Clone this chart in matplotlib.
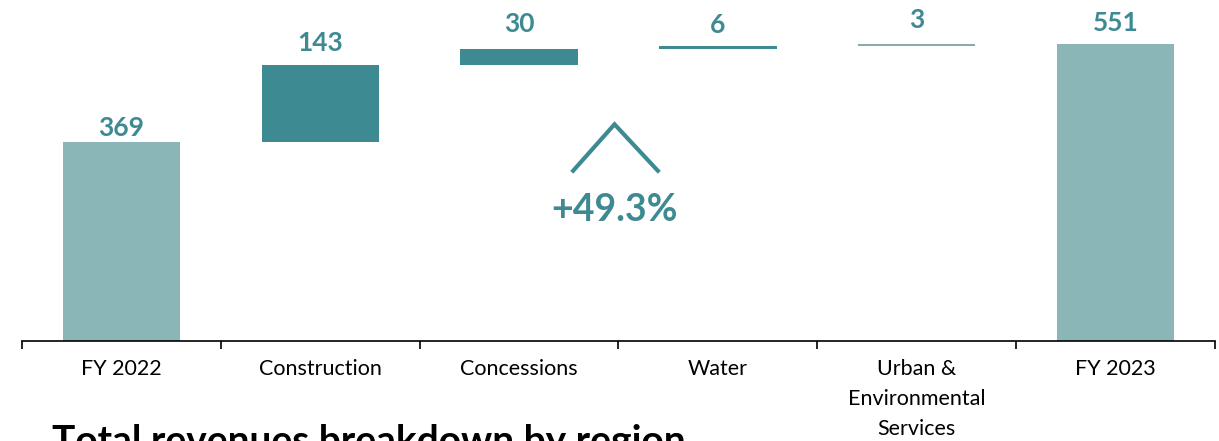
import matplotlib.pyplot as plt
import numpy as np

categories = ["FY 2022", "Construction", "Concessions", "Water",
              "Urban &\nEnvironmental\nServices", "FY 2023"]
values = [369, 143, 30, 6, 3, 551]
is_total = [True, False, False, False, False, True]
growth_label = "+49.3%"

total_color = "#8BB6B7"
delta_color = "#3E8A93"
urban_color = "#8EA9A9"
text_color = "#3E8A93"

plt.rcParams["font.family"] = ["Lato", "DejaVu Sans"]

fig = plt.figure(figsize=(12.19, 4.41), dpi=100)
ax = fig.add_axes([22 / 1219, 100 / 441, 1193 / 1219, 341 / 441])

# waterfall bottoms
bottoms = []
running = 0
for v, tot in zip(values, is_total):
    if tot:
        bottoms.append(0)
        running = v
    else:
        bottoms.append(running)
        running += v

colors = []
for i, tot in enumerate(is_total):
    if tot:
        colors.append(total_color)
    elif i == 4:
        colors.append(urban_color)
    else:
        colors.append(delta_color)

x = np.arange(len(categories))
ax.bar(x, values, bottom=bottoms, width=0.59, color=colors, linewidth=0)

# label gap above each bar (points), as in the original slide
gaps = [4.5, 10, 12, 9, 11.5, 9.5]
for xi, v, b, g in zip(x, values, bottoms, gaps):
    ax.annotate(str(v), (xi, b + v), xytext=(0, g), textcoords="offset points",
                ha="center", va="baseline", fontsize=19, fontweight="bold",
                color=text_color)

# growth chevron + label
ax.plot([2.265, 2.48, 2.705], [313, 402, 313], color=text_color, lw=3,
        solid_capstyle="butt", solid_joinstyle="miter")
ax.text(2.48, 243, growth_label, ha="center", va="center", fontsize=27,
        fontweight="bold", color=text_color)

ax.set_xlim(-0.5, len(categories) - 0.5)
ax.set_ylim(0, 632.6)

for s in ["top", "right", "left"]:
    ax.spines[s].set_visible(False)
ax.spines["bottom"].set_linewidth(1.2)
ax.set_yticks([])

ax.set_xticks(x)
ax.set_xticklabels(categories, fontsize=15.5, linespacing=1.62)
ax.tick_params(axis="x", which="major", length=0, pad=13)
ax.set_xticks(np.arange(-0.5, len(categories)), minor=True)
ax.tick_params(axis="x", which="minor", length=6, width=1.2, direction="out")

fig.text(52 / 1219, 17 / 441, "Total revenues breakdown by region",
         ha="left", va="top", fontsize=28, fontweight="bold", color="black")

fig.savefig("out.png", dpi=100)
